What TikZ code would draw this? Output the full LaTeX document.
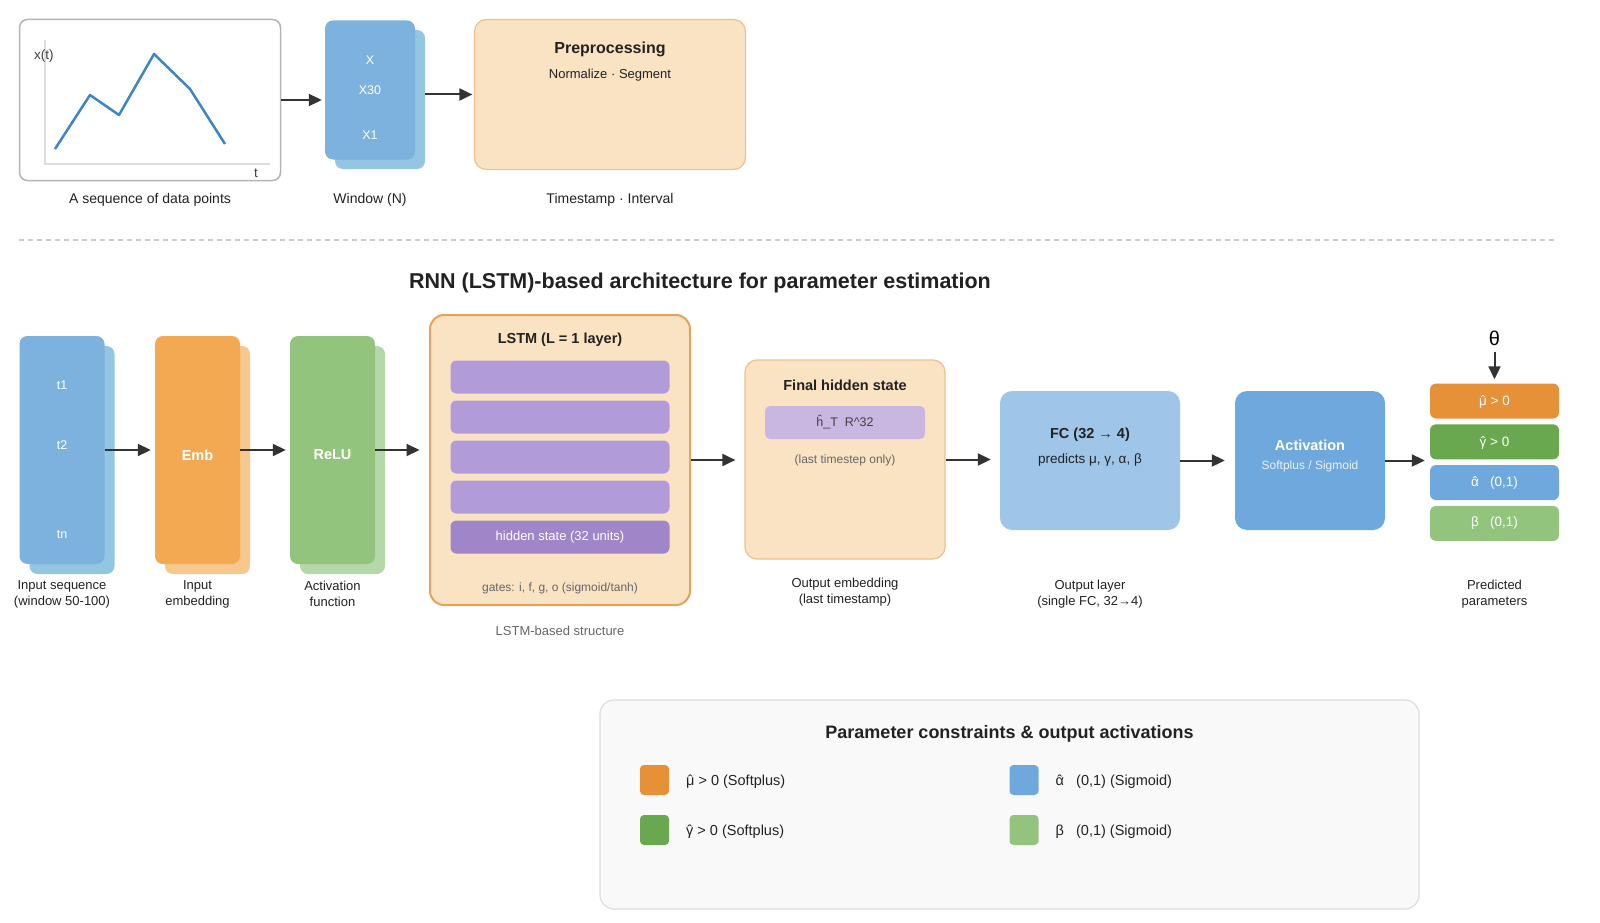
\documentclass[tikz,border=0pt]{standalone}
\usepackage{fontspec}
\setmainfont{Liberation Sans}
\usetikzlibrary{arrows.meta}
\definecolor{ink}{HTML}{333333}
\definecolor{txt}{HTML}{222222}
\definecolor{grey}{HTML}{666666}
\definecolor{frame}{HTML}{B5B5B5}
\definecolor{axis}{HTML}{DDDDDD}
\definecolor{curve}{HTML}{3D85C6}
\definecolor{seqA}{HTML}{7DB2DF}
\definecolor{seqB}{HTML}{93C6E1}
\definecolor{embA}{HTML}{F3A952}
\definecolor{embB}{HTML}{F6C88D}
\definecolor{reluA}{HTML}{93C47D}
\definecolor{reluB}{HTML}{B6D7A8}
\definecolor{peach}{HTML}{FAE3C3}
\definecolor{peachline}{HTML}{EBC28C}
\definecolor{lstmline}{HTML}{E2A35B}
\definecolor{gate}{HTML}{B19CD9}
\definecolor{hidden}{HTML}{9E86C8}
\definecolor{hfinal}{HTML}{C9B7E1}
\definecolor{fc}{HTML}{9FC5E8}
\definecolor{act}{HTML}{6FA8DC}
\definecolor{pmu}{HTML}{E69138}
\definecolor{pgamma}{HTML}{6AA84F}
\definecolor{palpha}{HTML}{6FA8DC}
\definecolor{pbeta}{HTML}{93C47D}
\definecolor{legendbg}{HTML}{F9F9F9}
\definecolor{legendline}{HTML}{DDDDDD}
\newcommand{\fsz}[1]{\fontsize{#1}{16}\selectfont}
% circumflex set over a greek letter
\newcommand{\hatted}[1]{{\ooalign{#1\cr\hidewidth\char"02C6\hidewidth\cr}}}

\begin{document}
\begin{tikzpicture}[x=1pt, y=-1pt, font=\fsz{13}, text=txt,
    layer/.style={rounded corners=8pt, minimum width=85pt, minimum height=228pt, inner sep=0pt},
    gatebar/.style={fill=gate, rounded corners=6pt, minimum width=219pt, minimum height=33pt, inner sep=0pt, font=\fsz{13}},
    outbar/.style={rounded corners=6pt, minimum width=129pt, minimum height=35pt, inner sep=0pt, text=white, font=\fsz{13.5}},
    swatch/.style={rounded corners=4pt, minimum width=29pt, minimum height=30pt, inner sep=0pt},
    flow/.style={ink, line width=2pt, -{Triangle[length=13pt, width=12pt]}, shorten >=4pt},
    undertext/.style={align=center, font=\fsz{13}},
    boxtitle/.style={font=\bfseries\fsz{14.5}}]
  \fill[white] (0,0) rectangle (1600,923);
  \useasboundingbox (0,0) rectangle (1600,923);

  % raw signal
  \node[draw=frame, line width=1.5pt, rounded corners=8pt, fill=white, minimum width=261pt, minimum height=161pt] (plot) at (150,100) {};
  \draw[axis, line width=2pt] (45,40) -- (45,164) -- (270,164);
  \draw[curve, line width=2.5pt, line join=round] (55,149) -- (90,95) -- (119,115) -- (154,54) -- (190,89) -- (225,144);
  \node[anchor=west, inner sep=0pt, font=\fsz{13.5}, text=black!75] (xlab) at (34,56) {x(t)};
  \node[anchor=west, inner sep=0pt, font=\fsz{13.5}, text=black!75] (tlab) at (254,173) {t};
  \node[font=\fsz{14}] (plotcap) at (150,200) {A sequence of data points};

  % window
  \node[layer, fill=seqB, minimum width=90pt, minimum height=139pt] (winback) at (380,99.5) {};
  \node[layer, fill=seqA, minimum width=90pt, minimum height=139pt] (win) at (370,90) {};
  \foreach \lab/\yy in {X/60, X30/90, X1/135}
    \node[text=white, font=\fsz{12.5}] (win-\yy) at (370,\yy) {\lab};
  \node[font=\fsz{14}] (wincap) at (370,200) {Window (N)};

  % preprocessing
  \node[fill=peach, draw=peachline, line width=1.2pt, rounded corners=12pt, minimum width=271pt, minimum height=150pt] (prep) at (610,94.5) {};
  \node[font=\bfseries\fsz{16}] (preptitle) at (610,49) {Preprocessing};
  \node[font=\fsz{13}] (prepsub) at (610,75) {Normalize · Segment};
  \node[font=\fsz{14}] (prepcap) at (610,200) {Timestamp · Interval};

  \draw[flow, shorten >=3pt] (plot.east) -- (plot.east -| win.west);
  \draw[flow, shorten >=1.5pt] (prep.west -| winback.east) -- (prep.west);

  \draw[black!20, line width=1.2pt, dash pattern=on 5pt off 4pt] (19,240) -- (1556,240);
  \node[font=\bfseries\fsz{21.5}] (title) at (700,283) {RNN (LSTM)-based architecture for parameter estimation};

  % input, embedding, relu
  \foreach \nm/\cx/\ca/\cb in {seq/62/seqA/seqB, emb/197.5/embA/embB, relu/332.5/reluA/reluB} {
    \node[layer, fill=\cb] (\nm back) at (\cx+10,460) {};
    \node[layer, fill=\ca] (\nm) at (\cx,450) {};
  }
  \foreach \lab/\yy in {t1/385, t2/445, tn/535}
    \node[text=white, font=\fsz{12.5}] (seq-\lab) at (62,\yy) {\lab};
  \node[text=white, font=\bfseries\fsz{14.5}] (embtxt) at (197.5,455) {Emb};
  \node[text=white, font=\bfseries\fsz{14.5}] (relutxt) at (332.5,455) {ReLU};
  \node[undertext] (seqcap) at (62,594) {Input sequence\\(window 50-100)};
  \node[undertext] (embcap) at (197.5,594) {Input\\embedding};
  \node[undertext] (relucap) at (332.5,594) {Activation\\function};

  % lstm block
  \node[fill=peach, draw=lstmline, line width=2pt, rounded corners=14pt, minimum width=260pt, minimum height=290pt] (lstm) at (560,460) {};
  \node[boxtitle] (lstmtitle) at (560,340) {LSTM (L = 1 layer)};
  \foreach \gy [count=\gi] in {377,417,457,497}
    \node[gatebar] (gate\gi) at (560,\gy) {};
  \node[gatebar, fill=hidden, text=white] (hstate) at (560,537) {hidden state (32 units)};
  \node[text=grey, font=\fsz{12}] (gatetxt) at (560,588) {gates: i, f, g, o (sigmoid/tanh)};
  \node[text=grey, font=\fsz{13}] (lstmcap) at (560,631) {LSTM-based structure};

  % final hidden state
  \node[fill=peach, draw=peachline, line width=1.2pt, rounded corners=12pt, minimum width=200pt, minimum height=199pt] (final) at (845,459.5) {};
  \node[boxtitle] (finaltitle) at (845,385) {Final hidden state};
  \node[fill=hfinal, rounded corners=5pt, minimum width=160pt, minimum height=33pt, text=black!75, font=\fsz{12.5}] (hT) at (845,422.5) {ĥ\_T\ \ R\textasciicircum 32};
  \node[text=grey, font=\fsz{12}] (lastonly) at (845,460) {(last timestep only)};
  \node[undertext] (finalcap) at (845,592.5) {Output embedding\\(last timestamp)};

  % fc and activation
  \node[fill=fc, rounded corners=12pt, minimum width=180pt, minimum height=139pt] (fcl) at (1090,460.5) {};
  \node[boxtitle] (fctitle) at (1090,435) {FC (32 → 4)};
  \node[font=\fsz{13.5}] (fcsub) at (1090,460) {predicts μ, γ, α, β};
  \node[undertext] (fccap) at (1090,594) {Output layer\\(single FC, 32→4)};

  \node[fill=act, rounded corners=12pt, minimum width=150pt, minimum height=139pt] (act) at (1310,460.5) {};
  \node[boxtitle, text=white] (acttitle) at (1310,445) {Activation};
  \node[text=white!85!act, font=\fsz{12}] (actsub) at (1310,466) {Softplus / Sigmoid};

  % predicted parameters
  \node[outbar, fill=pmu] (mu) at (1494.5,401) {\hatted{μ} > 0};
  \node[outbar, fill=pgamma] (gamma) at (1494.5,441.8) {\hatted{γ} > 0};
  \node[outbar, fill=palpha] (alpha) at (1494.5,482.6) {\hatted{α}\ \ \ (0,1)};
  \node[outbar, fill=pbeta] (beta) at (1494.5,523.4) {β\ \ \ (0,1)};
  \node[font=\fsz{20}, text=black] (theta) at (1494.5,338) {θ};
  \node[undertext] (outcap) at (1494.5,594) {Predicted\\parameters};

  \draw[flow] (seq.east) -- (emb.west);
  \draw[flow] (emb.east) -- (relu.west);
  \draw[flow, shorten >=9.5pt] (relu.east) -- (relu.east -| lstm.west);
  \draw[flow, shorten >=9pt] (lstm.east) -- (lstm.east -| final.west);
  \draw[flow, shorten >=9pt] (final.east) -- (final.east -| fcl.west);
  \draw[flow, shorten >=10pt] (fcl.east) -- (act.west);
  \draw[flow, shorten >=5pt] (act.east) -- (act.east -| mu.west);
  \draw[flow, shorten <=3pt] (theta.south) -- (mu.north);

  % legend
  \node[fill=legendbg, draw=legendline, line width=1.2pt, rounded corners=14pt, minimum width=819pt, minimum height=209pt] (legend) at (1009.5,804.5) {};
  \node[font=\bfseries\fsz{18}] (legendtitle) at (1009.5,734) {Parameter constraints \& output activations};
  \foreach \nm/\col/\sx/\sy/\txt in {
      lmu/pmu/654.5/780/{\hatted{μ} > 0 (Softplus)},
      lgamma/pgamma/654.5/830/{\hatted{γ} > 0 (Softplus)},
      lalpha/palpha/1024/780/{\hatted{α}\ \ \ (0,1) (Sigmoid)},
      lbeta/pbeta/1024/830/{β\ \ \ (0,1) (Sigmoid)}
  } {
    \node[swatch, fill=\col] (\nm) at (\sx,\sy) {};
    \node[anchor=west, inner sep=0pt, font=\fsz{14.5}] (\nm txt) at (\sx+31.5,\sy+2) {\txt};
  }
\end{tikzpicture}
\end{document}
